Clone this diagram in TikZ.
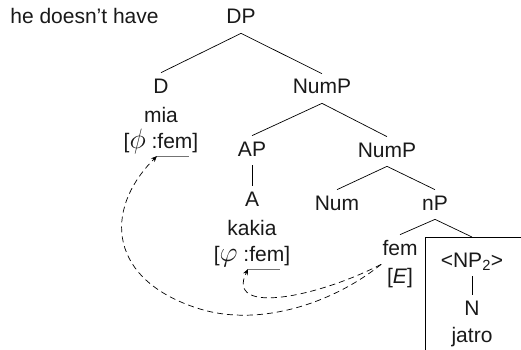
\documentclass[tikz,border=0pt]{standalone}
\usepackage{fontspec}
\setmainfont{Liberation Sans}
\usetikzlibrary{positioning,arrows.meta}

\begin{document}
\begin{tikzpicture}[x=1pt, y=-1pt, on grid, font=\fontsize{21}{25}\selectfont, line width=0.7pt]
        \tikzstyle{lbl}=[inner xsep=1pt, inner ysep=5pt, text height=15pt, text depth=4pt, text=black!90]
        \tikzstyle{fbar}=[black!55, line width=0.9pt]
        \tikzstyle{agree}=[dash pattern=on 6pt off 4pt, -{Stealth[length=6pt, width=5pt]}]

        \useasboundingbox (0,0) rectangle (521,350);

        \node[lbl, anchor=base west, inner xsep=0pt] (gloss) at (10,24) {he doesn’t have};
        \node[lbl, anchor=base] (dp) at (241,24) {DP};

        \node[lbl] (d) [below left=69pt and 80pt of dp] {D};
        \node[lbl] (mia) [below=29pt of d] {mia};
        \node[lbl] (miaf) [below=26pt of mia] {[\scalebox{1.35}{$\phi$}\ :fem]};

        \node[lbl] (nump) [below right=70pt and 81pt of dp] {NumP};
        \node[lbl] (ap) [below left=62pt and 70pt of nump] {AP};
        \node[lbl] (a) [below=50pt of ap] {A};
        \node[lbl] (kakia) [below=29pt of a] {kakia};
        \node[lbl] (kakf) [below=26pt of kakia] {[\scalebox{1.35}{$\varphi$}\ :fem]};

        \node[lbl] (numpb) [below right=63pt and 65pt of nump] {NumP};
        \node[lbl] (num) [below left=53pt and 50pt of numpb] {Num};
        \node[lbl] (np) [below right=53pt and 48pt of numpb] {nP};
        \node[lbl] (fem) [below left=45pt and 35pt of np] {fem};
        \node[lbl] (e) [below=28pt of fem] {[\textit{E}]};

        \node[lbl] (nptwo) [below right=57pt and 37pt of np] {<NP\textsubscript{2}>};
        \node[lbl] (n) [below=48pt of nptwo] {N};
        \node[lbl] (jatro) [below=27pt of n] {jatro};

        % box round the copied NP
        \coordinate (boxtl) at (425,237);
        \coordinate (boxbl) at (425,350);
        \coordinate (boxtr) at (521,237);
        \draw (boxbl) -- (boxtl) -- (boxtr);

        \draw (dp.south) -- (d.north);
        \draw (dp.south) -- (nump.north);
        \draw (nump.south) -- (ap.north);
        \draw (nump.south) -- (numpb.north);
        \draw (ap.south) -- (a.north);
        \draw (numpb.south) -- (num.north);
        \draw (numpb.south) -- (np.north);
        \draw (np.south) -- (fem.north);
        \draw (np.south) -- (nptwo.north |- boxtl);
        \draw (nptwo.south) -- (n.north);

        % underlined feature values
        \coordinate (miaul) at ([shift={(-4,8)}]miaf.base);
        \coordinate (miaur) at ([shift={(28,8)}]miaf.base);
        \coordinate (kakul) at ([shift={(-4,8)}]kakf.base);
        \coordinate (kakur) at ([shift={(28,8)}]kakf.base);
        \draw[fbar] (miaul) -- (miaur);
        \draw[fbar] (kakul) -- (kakur);

        \coordinate (loopb) at (200,309);
        \draw[agree] (fem.south west) .. controls (332,304) and (259,327) .. (loopb)
            .. controls (109,281) and (102,211) .. (miaul);
        \draw[agree] (fem.south west) .. controls (318,297) and (225,316) .. (kakul);

    \end{tikzpicture}
\end{document}
